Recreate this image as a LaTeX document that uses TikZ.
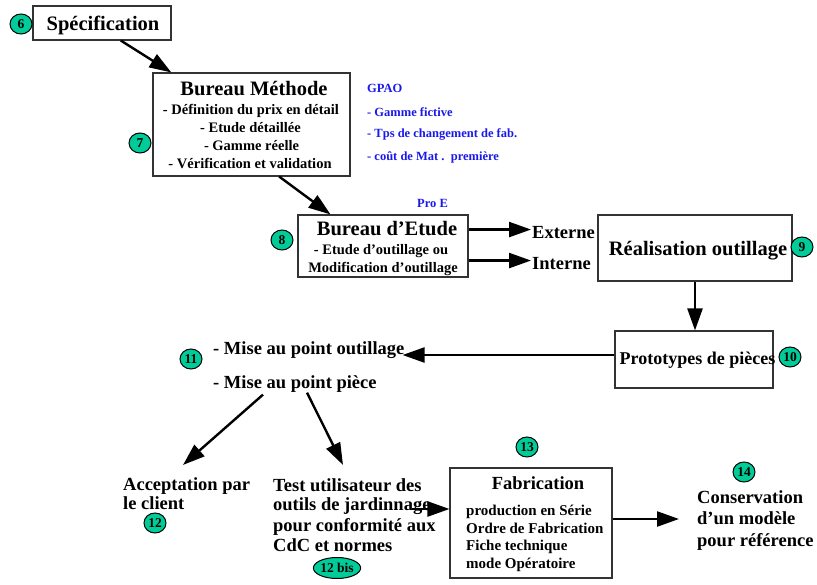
\documentclass[tikz,border=0pt]{standalone}
\usepackage{fontspec}
\setmainfont{Liberation Serif}
\usetikzlibrary{arrows.meta,calc,shapes.geometric}
\definecolor{numgreen}{RGB}{0,204,153}
\definecolor{blu}{RGB}{25,25,235}
\tikzset{
  box/.style={draw=black!80, line width=1.1pt, inner sep=0},
  num/.style={shape=ellipse, draw=black, line width=1pt, fill=numgreen, inner sep=0,
    minimum width=22, minimum height=20, font=\fontsize{13.5}{14}\selectfont\bfseries},
  arr/.style={line width=2.4pt, -{Triangle[length=22pt,width=15pt]}},
  tA/.style={font=\fontsize{20.5}{22}\selectfont\bfseries, inner sep=0},
  tB/.style={font=\fontsize{18.5}{20}\selectfont\bfseries, inner sep=0},
  tC/.style={font=\fontsize{14.5}{16}\selectfont\bfseries, inner sep=0},
  tD/.style={font=\fontsize{15}{16}\selectfont\bfseries, inner sep=0},
  tblue/.style={font=\fontsize{12.5}{14}\selectfont\bfseries, text=blu, inner sep=0},
}
\begin{document}
\begin{tikzpicture}[x=1pt,y=-1pt]
\useasboundingbox (0,0) rectangle (817,584);

% Specification
\node[box, minimum width=138, minimum height=34] (spec) at (102,23) {};
\node[tA, anchor=base] (spect) at (103,30) {Spécification};
\node[num] (n6) at (21,24) {6};

% Bureau Methode
\node[box, minimum width=197, minimum height=103] (bm) at (251.5,124.5) {};
\node[tA, anchor=base] (bm0) at (254,95) {Bureau Méthode};
\node[tC, anchor=base] (bm1) at (251,114) {- Définition du prix en détail};
\node[tC, anchor=base] (bm2) at (250.5,132) {- Etude détaillée};
\node[tC, anchor=base] (bm3) at (251.5,150) {- Gamme réelle};
\node[tC, anchor=base] (bm4) at (250,168) {- Vérification et validation};
\node[num] (n7) at (140,143) {7};

% GPAO
\node[tblue, anchor=base west] (g0) at (367,92.5) {GPAO};
\node[tblue, anchor=base west] (g1) at (367,116.5) {- Gamme fictive};
\node[tblue, anchor=base west] (g2) at (367,137.5) {- Tps de changement de fab.};
\node[tblue, anchor=base west] (g3) at (367,160.5) {- coût de Mat .\ \ première};

% Bureau d'Etude
\node[tblue, anchor=base west] (proe) at (417,207) {Pro E};
\node[box, minimum width=170, minimum height=62] (be) at (383,246) {};
\node[tA, anchor=base] (be0) at (387,235) {Bureau d’Etude};
\node[tC, anchor=base] (be1) at (381,254) {- Etude d’outillage ou};
\node[tC, anchor=base] (be2) at (383,272) {Modification d’outillage};
\node[num] (n8) at (282,240) {8};

\node[tB, anchor=base west] (ext) at (532,238.5) {Externe};
\node[tB, anchor=base west] (int) at (532,269.5) {Interne};

% Realisation outillage
\node[box, minimum width=194, minimum height=66] (ro) at (695,248) {};
\node[tA, anchor=base] (rot) at (698,255) {Réalisation outillage};
\node[num] (n9) at (802,247) {9};

% Prototypes
\node[box, minimum width=158, minimum height=57] (proto) at (694,359.5) {};
\node[font=\fontsize{18}{20}\selectfont\bfseries, inner sep=0, anchor=base] (protot) at (697.5,364) {Prototypes de pièces};
\node[num] (n10) at (790,357) {10};

% Mise au point
\node[tB, anchor=base west] (mpo) at (213,354.5) {- Mise au point outillage};
\node[tB, anchor=base west] (mpp) at (213,388.5) {- Mise au point pièce};
\node[num] (n11) at (191,359) {11};

% Acceptation
\node[tB, anchor=base west] (acc1) at (123,490) {Acceptation par};
\node[tB, anchor=base west] (acc2) at (123,509) {le client};
\node[num] (n12) at (155,523) {12};

% Test
\node[tB, anchor=base west] (test1) at (273,491) {Test utilisateur des};
\node[tB, anchor=base west] (test2) at (273,510) {outils de jardinnage};
\node[tB, anchor=base west] (test3) at (273,531) {pour conformité aux};
\node[tB, anchor=base west] (test4) at (273,551) {CdC et normes};
\node[num, minimum width=45, minimum height=21] (n12b) at (337,568) {12 bis};

% Fabrication
\node[box, minimum width=162, minimum height=110] (fab) at (531,523) {};
\node[tB, anchor=base] (fab0) at (538,489.5) {Fabrication};
\node[tD, anchor=base west] (fab1) at (466,515) {production en Série};
\node[tD, anchor=base west] (fab2) at (466,533) {Ordre de Fabrication};
\node[tD, anchor=base west] (fab3) at (466,550) {Fiche technique};
\node[tD, anchor=base west] (fab4) at (466,568) {mode Opératoire};
\node[num] (n13) at (527,447) {13};

% Conservation
\node[num] (n14) at (744,472) {14};
\node[tB, anchor=base west] (cons1) at (697,503) {Conservation};
\node[tB, anchor=base west] (cons2) at (697,524) {d’un modèle};
\node[tB, anchor=base west] (cons3) at (697,546) {pour référence};

% Connectors
\draw[arr] (spec.-43) -- (bm.147);
\draw[arr] (bm.-62.8) -- (be.149);
\draw[arr] ($(be.east|-ext.west)+(0,-3)$) -- ($(ext.west)+(-1,-3)$);
\draw[arr] ($(be.east|-int.west)+(0,-3)$) -- ($(int.west)+(-1,-3)$);
\draw[arr] (ro.south) -- (ro.south|-proto.north);
\draw[arr] ($(proto.west)+(0,-4.5)$) -- ($(mpo.east|-proto.west)+(-2,-4.5)$);
\draw[arr] ($(mpp.south west)+(50,2)$) -- ($(acc1.north west)+(60,-12)$);
\draw[arr] ($(mpp.south west)+(94,0)$) -- ($(test1.north west)+(70,-13)$);
\draw[arr] ($(fab.west)+(-37,-14)$) -- ($(fab.west)+(0,-14)$);
\draw[arr] ($(fab.east)+(0,-4)$) -- ($(cons1.west|-fab.east)+(-18,-4)$);
\end{tikzpicture}
\end{document}
